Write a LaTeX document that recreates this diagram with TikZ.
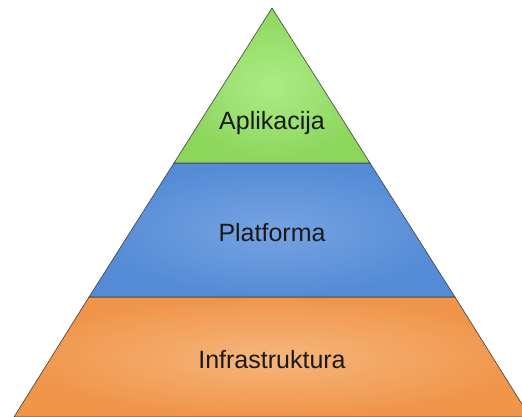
\documentclass[tikz,border=0pt]{standalone}
\usepackage{fontspec}
\setmainfont{Liberation Sans}
\definecolor{appgreen}{RGB}{140,214,92}
\definecolor{appgreenlight}{RGB}{172,236,134}
\definecolor{platblue}{RGB}{84,139,214}
\definecolor{platbluelight}{RGB}{118,163,226}
\definecolor{infraorange}{RGB}{240,149,74}
\definecolor{infraorangelight}{RGB}{246,182,124}

\begin{document}
\begin{tikzpicture}[x=1pt, y=1pt]
          \tikzstyle{layer}=[draw=black!75, line width=0.6pt]
          \tikzstyle{label}=[font=\fontsize{25}{30}\selectfont, text=black!90]

          \useasboundingbox (0,0) rectangle (522,417);
          \clip (0,0) rectangle (522,417);

          \shade[layer, inner color=infraorangelight, outer color=infraorange]
            (14,0) -- (530,0) -- (455,120) -- (89,120) -- cycle;
          \shade[layer, inner color=platbluelight, outer color=platblue]
            (89,120) -- (455,120) -- (370,254) -- (174,254) -- cycle;
          \shade[layer, inner color=appgreenlight, outer color=appgreen]
            (174,254) -- (370,254) -- (272,409) -- cycle;

          \node[label] (infra) at (272,57) {Infrastruktura};
          \node[label] (plat) at (272,184) {Platforma};
          \node[label] (app) at (272,294) {Aplikacija};

        \end{tikzpicture}
\end{document}
